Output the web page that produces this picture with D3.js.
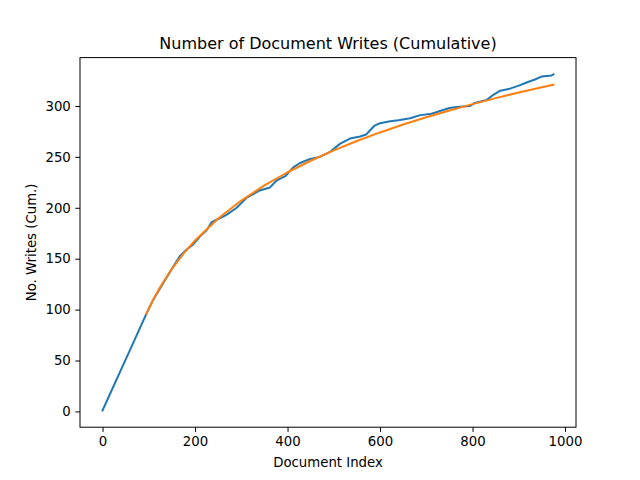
<!DOCTYPE html>
<html>
<head>
<meta charset="utf-8">
<script src="https://cdn.jsdelivr.net/npm/d3@7"></script>
<style>
  html, body { margin: 0; padding: 0; background: #fff; }
  svg { display: block; font-family: "DejaVu Sans", sans-serif; }
</style>
</head>
<body>
<svg id="chart" width="640" height="480"></svg>
<script>
// ---- data ----
const writesX = [0, 20, 40, 60, 80, 96, 110, 131, 150, 168, 182, 196, 211, 225, 236, 250, 268, 290, 312, 340,
  362, 377, 395, 413, 427, 449, 470, 492, 514, 535, 557, 570, 589, 600, 622, 640, 665, 687, 708, 723,
  750, 766, 795, 805, 831, 845, 860, 881, 900, 917, 935, 950, 971, 975];
const writesY = [1, 21, 41, 61, 81, 97, 110, 126, 140, 153, 159, 164, 172, 178, 186, 189, 193, 200, 210, 217,
  220, 227, 231, 240, 244, 248, 250, 255, 263, 268, 270, 272, 281, 283, 285, 286, 288, 291, 292, 294,
  298, 299, 300, 303, 306, 311, 315, 317, 320, 323, 326, 329, 330, 331];

const fitX = [95, 100, 110, 125, 150, 175, 200, 250, 300, 350, 400, 450, 500, 550, 600, 650, 700, 750,
  800, 850, 900, 950, 975];
const fitY = [96.0, 100.9, 110.1, 122.5, 140.1, 155.0, 167.9, 189.5, 207.1, 222.0, 234.9, 246.2, 256.4,
  265.6, 274.0, 281.8, 288.9, 295.6, 301.8, 307.7, 313.2, 318.4, 320.9];

const xTicks = [0, 200, 400, 600, 800, 1000];
const yTicks = [0, 50, 100, 150, 200, 250, 300];

const W = 640;
const H = 480;
const M = { left: 80, right: 576, top: 57.6, bottom: 427.2 };

const svg = d3.select('#chart');

// matplotlib-style 5% margins
function padded(vals) {
  const [lo, hi] = d3.extent(vals);
  const d = (hi - lo) * 0.05;
  return [lo - d, hi + d];
}
const x = d3.scaleLinear().domain(padded(writesX.concat(fitX))).range([M.left, M.right]);
const y = d3.scaleLinear().domain(padded(writesY.concat(fitY))).range([M.bottom, M.top]);

const line = d3.line().x((d) => x(d[0])).y((d) => y(d[1]));

const plot = svg.append('g');
plot.append('defs').append('clipPath').attr('id', 'clip')
  .append('rect').attr('x', M.left).attr('y', M.top)
  .attr('width', M.right - M.left).attr('height', M.bottom - M.top);

const lines = plot.append('g').attr('clip-path', 'url(#clip)');
lines.append('path')
  .attr('d', line(d3.zip(writesX, writesY)))
  .attr('fill', 'none')
  .attr('stroke', '#1f77b4')
  .attr('stroke-width', 2)
  .attr('stroke-linejoin', 'round')
  .attr('stroke-linecap', 'square');
lines.append('path')
  .attr('d', line(d3.zip(fitX, fitY)))
  .attr('fill', 'none')
  .attr('stroke', '#ff7f0e')
  .attr('stroke-width', 2)
  .attr('stroke-linejoin', 'round')
  .attr('stroke-linecap', 'square');

// ---- axes ----
const fmt = d3.format('d');
const xAxis = d3.axisBottom(x).tickValues(xTicks).tickFormat(fmt).tickSizeOuter(0).tickSize(4.7).tickPadding(4.5);
const yAxis = d3.axisLeft(y).tickValues(yTicks).tickFormat(fmt).tickSizeOuter(0).tickSize(4.7).tickPadding(4.5);

const gx = svg.append('g').attr('transform', `translate(0,${M.bottom})`).call(xAxis);
const gy = svg.append('g').attr('transform', `translate(${M.left},0)`).call(yAxis);
[gx, gy].forEach((g) => {
  g.select('.domain').remove();
  g.selectAll('.tick line').attr('stroke', '#000').attr('stroke-width', 1);
  g.selectAll('.tick text')
    .attr('fill', '#000')
    .attr('font-size', 13.3)
    .attr('font-family', '"DejaVu Sans", sans-serif');
});

// frame
svg.append('rect')
  .attr('x', M.left).attr('y', M.top)
  .attr('width', M.right - M.left).attr('height', M.bottom - M.top)
  .attr('fill', 'none').attr('stroke', '#000').attr('stroke-width', 1);

// ---- labels ----
svg.append('text')
  .attr('x', (M.left + M.right) / 2).attr('y', 49)
  .attr('text-anchor', 'middle').attr('font-size', 16)
  .text('Number of Document Writes (Cumulative)');
svg.append('text')
  .attr('x', (M.left + M.right) / 2).attr('y', 467)
  .attr('text-anchor', 'middle').attr('font-size', 13.3)
  .text('Document Index');
svg.append('text')
  .attr('transform', `translate(36,${(M.top + M.bottom) / 2}) rotate(-90)`)
  .attr('text-anchor', 'middle').attr('font-size', 13.3)
  .text('No. Writes (Cum.)');
</script>
</body>
</html>
